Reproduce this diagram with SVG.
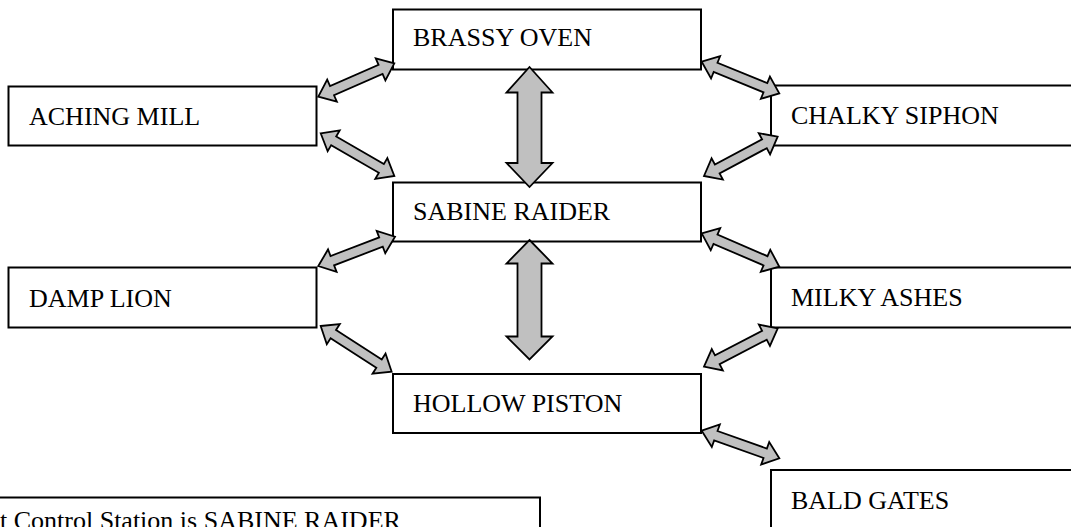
<svg xmlns="http://www.w3.org/2000/svg" width="1071" height="527" viewBox="0 0 1071 527">
<style>
.box{fill:#fff;stroke:#000;stroke-width:2}
.lbl{font-family:"Liberation Serif","Times New Roman",serif;font-size:26px;fill:#000}
.arr{fill:#c0c0c0;stroke:#000;stroke-width:1.8;stroke-linejoin:miter}
</style>
<defs>
<path id="dbl" d="M0,0 L15,-12 L15,-5 L-15,-5 L-15,-12 L0,0"/>
</defs>
<rect width="1071" height="527" fill="#fff"/>
<g id="brassy-oven"><rect class="box" x="393" y="9.5" width="308" height="60"/><text class="lbl" x="413" y="46">BRASSY OVEN</text></g>
<g id="aching-mill"><rect class="box" x="8.5" y="86.5" width="308" height="59"/><text class="lbl" x="29" y="125">ACHING MILL</text></g>
<g id="chalky-siphon"><rect class="box" x="771" y="85.5" width="320" height="60"/><text class="lbl" x="791" y="124">CHALKY SIPHON</text></g>
<g id="sabine-raider"><rect class="box" x="393" y="182.5" width="308" height="59"/><text class="lbl" x="413" y="220">SABINE RAIDER</text></g>
<g id="damp-lion"><rect class="box" x="8.5" y="267.5" width="308" height="60"/><text class="lbl" x="29" y="306.5">DAMP LION</text></g>
<g id="milky-ashes"><rect class="box" x="771" y="267.5" width="320" height="60"/><text class="lbl" x="791" y="306">MILKY ASHES</text></g>
<g id="hollow-piston"><rect class="box" x="393" y="374" width="308" height="59"/><text class="lbl" x="413" y="411.5">HOLLOW PISTON</text></g>
<g id="bald-gates"><rect class="box" x="771" y="470" width="320" height="80"/><text class="lbl" x="791" y="508.5">BALD GATES</text></g>
<g id="note"><rect class="box" x="-10" y="497.5" width="550" height="60"/><text class="lbl" x="0" y="529">t Control Station is SABINE RAIDER</text></g>
<g id="connectors">
<path class="arr" d="M529.5,67 L552.5,92.5 L541.5,92.5 L541.5,163 L552.5,163 L529.5,187 L506.5,163 L517.5,163 L517.5,92.5 L506.5,92.5 Z"/>
<path class="arr" d="M529.5,240 L552.5,263.5 L541.5,263.5 L541.5,336.5 L552.5,336.5 L529.5,359.5 L506.5,336.5 L517.5,336.5 L517.5,263.5 L506.5,263.5 Z"/>
<path class="arr" transform="translate(318.3,96.7) rotate(-23.7)" d="M0,0 L15,-12 L15,-5 L68,-5 L68,-12 L83,0 L68,12 L68,5 L15,5 L15,12 Z"/>
<path class="arr" transform="translate(320.7,133.3) rotate(30.1)" d="M0,0 L15,-12 L15,-5 L70.1,-5 L70.1,-12 L85.1,0 L70.1,12 L70.1,5 L15,5 L15,12 Z"/>
<path class="arr" transform="translate(701.7,61.7) rotate(22.2)" d="M0,0 L15,-12 L15,-5 L68.8,-5 L68.8,-12 L83.8,0 L68.8,12 L68.8,5 L15,5 L15,12 Z"/>
<path class="arr" transform="translate(704,176) rotate(-28.1)" d="M0,0 L15,-12 L15,-5 L68.5,-5 L68.5,-12 L83.5,0 L68.5,12 L68.5,5 L15,5 L15,12 Z"/>
<path class="arr" transform="translate(318.3,266) rotate(-20.9)" d="M0,0 L15,-12 L15,-5 L67.1,-5 L67.1,-12 L82.1,0 L67.1,12 L67.1,5 L15,5 L15,12 Z"/>
<path class="arr" transform="translate(320.7,326) rotate(32.8)" d="M0,0 L15,-12 L15,-5 L69.4,-5 L69.4,-12 L84.4,0 L69.4,12 L69.4,5 L15,5 L15,12 Z"/>
<path class="arr" transform="translate(701.7,233.3) rotate(23.3)" d="M0,0 L15,-12 L15,-5 L69.5,-5 L69.5,-12 L84.5,0 L69.5,12 L69.5,5 L15,5 L15,12 Z"/>
<path class="arr" transform="translate(704,366.7) rotate(-27.5)" d="M0,0 L15,-12 L15,-5 L68.1,-5 L68.1,-12 L83.1,0 L68.1,12 L68.1,5 L15,5 L15,12 Z"/>
<path class="arr" transform="translate(701.7,430.7) rotate(19.6)" d="M0,0 L15,-12 L15,-5 L67.4,-5 L67.4,-12 L82.4,0 L67.4,12 L67.4,5 L15,5 L15,12 Z"/>
</g>
</svg>
